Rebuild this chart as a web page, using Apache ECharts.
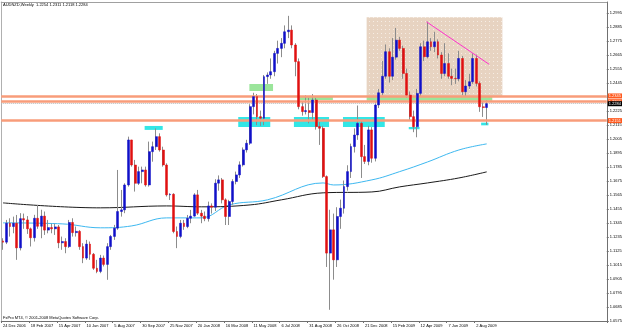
<!DOCTYPE html>
<html>
<head>
<meta charset="utf-8">
<script src="https://cdn.jsdelivr.net/npm/echarts@6/dist/echarts.min.js"></script>
<style>
  html, body { margin: 0; padding: 0; background: #fff; }
  #chart { width: 625px; height: 330px; }
</style>
</head>
<body>
<div id="chart"></div>
<script>
// AUDNZD weekly candles, first bar = week of 24 Dec 2006
const slotCount = 174; // bars + empty room on the right of the last bar
const tickLabels = ["24 Dec 2006", "18 Feb 2007", "15 Apr 2007", "10 Jun 2007", "5 Aug 2007", "30 Sep 2007",
  "25 Nov 2007", "20 Jan 2008", "16 Mar 2008", "11 May 2008", "6 Jul 2008", "31 Aug 2008", "26 Oct 2008",
  "21 Dec 2008", "15 Feb 2009", "12 Apr 2009", "7 Jun 2009", "2 Aug 2009"];

const opens = [
  1.1205, 1.1195, 1.1344, 1.1318, 1.1344, 1.1150, 1.1380, 1.1370, 1.1300, 1.1230,
  1.1383, 1.1320, 1.1400, 1.1290, 1.1310, 1.1300, 1.1315, 1.1190, 1.1200, 1.1160,
  1.1350, 1.1270, 1.1280, 1.1160, 1.1070, 1.1180, 1.1100, 1.0990, 1.0965, 1.1070,
  1.1020, 1.1160, 1.1240, 1.1305, 1.1436, 1.1449, 1.1645, 1.1999, 1.1802, 1.1658,
  1.1750, 1.1763, 1.1645, 1.1907, 1.1946, 1.2025, 1.1920, 1.1802, 1.1567, 1.1572,
  1.1279, 1.1240, 1.1344, 1.1318, 1.1383, 1.1400, 1.1567, 1.1423, 1.1400, 1.1380,
  1.1480, 1.1470, 1.1659, 1.1685, 1.1528, 1.1397, 1.1515, 1.1672, 1.1724, 1.1803,
  1.1921, 1.1973, 1.2261, 1.2340, 1.2182, 1.2170, 1.2497, 1.2510, 1.2536, 1.2680,
  1.2719, 1.2759, 1.2850, 1.2863, 1.2746, 1.2615, 1.2261, 1.2222, 1.2230, 1.2215,
  1.2313, 1.2104, 1.2091, 1.1711, 1.1109, 1.1292, 1.1056, 1.1397, 1.1462, 1.1632,
  1.1750, 1.1947, 1.2038, 1.2130, 1.1868, 1.1830, 1.2078, 1.1855, 1.2274, 1.2370,
  1.2500, 1.2693, 1.2500, 1.2650, 1.2784, 1.2719, 1.2522, 1.2352, 1.2182, 1.2103,
  1.2365, 1.2732, 1.2653, 1.2771, 1.2732, 1.2771, 1.2667, 1.2522, 1.2600, 1.2500,
  1.2483, 1.2480, 1.2640, 1.2378, 1.2423, 1.2457, 1.2640, 1.2444, 1.2260, 1.2254
];
const highs = [
  1.1226, 1.1370, 1.1383, 1.1396, 1.1409, 1.1423, 1.1420, 1.1400, 1.1310, 1.1410,
  1.1488, 1.1450, 1.1436, 1.1370, 1.1340, 1.1340, 1.1330, 1.1239, 1.1226, 1.1370,
  1.1383, 1.1318, 1.1290, 1.1187, 1.1213, 1.1200, 1.1110, 1.1056, 1.1095, 1.1090,
  1.1187, 1.1252, 1.1331, 1.1763, 1.1606, 1.1658, 1.2025, 1.2000, 1.1842, 1.1789,
  1.1789, 1.1789, 1.1986, 1.1986, 1.2090, 1.2051, 1.1946, 1.1815, 1.1580, 1.1580,
  1.1318, 1.1370, 1.1370, 1.1409, 1.1449, 1.1580, 1.1606, 1.1449, 1.1436, 1.1514,
  1.1500, 1.1690, 1.1720, 1.1700, 1.1540, 1.1528, 1.1690, 1.1750, 1.1830, 1.1940,
  1.2000, 1.2280, 1.2370, 1.2360, 1.2230, 1.2510, 1.2530, 1.2640, 1.2700, 1.2780,
  1.2800, 1.2900, 1.2975, 1.2900, 1.2760, 1.2640, 1.2300, 1.2350, 1.2330, 1.2360,
  1.2330, 1.2140, 1.2110, 1.1720, 1.1450, 1.1420, 1.1470, 1.1530, 1.1680, 1.1800,
  1.1970, 1.2090, 1.2270, 1.2150, 1.1960, 1.2110, 1.2100, 1.2300, 1.2400, 1.2620,
  1.2750, 1.2720, 1.2800, 1.2880, 1.2810, 1.2740, 1.2560, 1.2380, 1.2230, 1.2400,
  1.2760, 1.2780, 1.2930, 1.2800, 1.2850, 1.2790, 1.2690, 1.2760, 1.2680, 1.2560,
  1.2560, 1.2700, 1.2660, 1.2470, 1.2520, 1.2680, 1.2670, 1.2460, 1.2300, 1.2311
];
const lows = [
  1.1135, 1.1180, 1.1239, 1.1265, 1.1056, 1.1130, 1.1300, 1.1260, 1.1161, 1.1200,
  1.1300, 1.1226, 1.1252, 1.1265, 1.1265, 1.1252, 1.1148, 1.1135, 1.1108, 1.1150,
  1.1239, 1.1239, 1.1135, 1.1030, 1.1056, 1.1056, 1.0977, 1.0951, 1.0951, 1.1004,
  1.0899, 1.1135, 1.1213, 1.1292, 1.1396, 1.1423, 1.1632, 1.1789, 1.1593, 1.1645,
  1.1658, 1.1632, 1.1632, 1.1828, 1.1920, 1.1907, 1.1789, 1.1554, 1.1527, 1.1265,
  1.1148, 1.1226, 1.1292, 1.1305, 1.1344, 1.1396, 1.1409, 1.1344, 1.1360, 1.1357,
  1.1420, 1.1440, 1.1600, 1.1500, 1.1330, 1.1330, 1.1490, 1.1650, 1.1700, 1.1790,
  1.1900, 1.1960, 1.2200, 1.2115, 1.2110, 1.2115, 1.2440, 1.2480, 1.2500, 1.2600,
  1.2650, 1.2720, 1.2800, 1.2720, 1.2500, 1.2240, 1.2190, 1.2200, 1.2130, 1.2150,
  1.2080, 1.1960, 1.1700, 1.1000, 1.0663, 1.0900, 1.1000, 1.1300, 1.1420, 1.1600,
  1.1700, 1.1900, 1.2000, 1.1700, 1.1810, 1.1800, 1.1820, 1.1830, 1.2250, 1.2350,
  1.2480, 1.2450, 1.2470, 1.2630, 1.2700, 1.2480, 1.2330, 1.2150, 1.2060, 1.2020,
  1.2340, 1.2620, 1.2640, 1.2700, 1.2690, 1.2640, 1.2480, 1.2500, 1.2480, 1.2430,
  1.2440, 1.2460, 1.2350, 1.2340, 1.2400, 1.2440, 1.2420, 1.2220, 1.2180, 1.2118
];
const closes = [
  1.1195, 1.1344, 1.1318, 1.1344, 1.1150, 1.1380, 1.1370, 1.1300, 1.1230, 1.1383,
  1.1320, 1.1400, 1.1290, 1.1310, 1.1300, 1.1315, 1.1190, 1.1200, 1.1160, 1.1350,
  1.1270, 1.1280, 1.1160, 1.1070, 1.1180, 1.1100, 1.0990, 1.0965, 1.1070, 1.1020,
  1.1160, 1.1240, 1.1305, 1.1436, 1.1449, 1.1645, 1.1999, 1.1802, 1.1658, 1.1750,
  1.1763, 1.1645, 1.1907, 1.1946, 1.2025, 1.1920, 1.1802, 1.1567, 1.1572, 1.1279,
  1.1240, 1.1344, 1.1318, 1.1383, 1.1400, 1.1567, 1.1423, 1.1400, 1.1380, 1.1480,
  1.1470, 1.1659, 1.1685, 1.1528, 1.1397, 1.1515, 1.1672, 1.1724, 1.1803, 1.1921,
  1.1973, 1.2261, 1.2340, 1.2182, 1.2170, 1.2497, 1.2510, 1.2536, 1.2680, 1.2719,
  1.2759, 1.2850, 1.2863, 1.2746, 1.2615, 1.2261, 1.2222, 1.2230, 1.2215, 1.2313,
  1.2104, 1.2091, 1.1711, 1.1109, 1.1292, 1.1056, 1.1397, 1.1462, 1.1632, 1.1750,
  1.1947, 1.2038, 1.2130, 1.1868, 1.1830, 1.2078, 1.1855, 1.2274, 1.2370, 1.2500,
  1.2693, 1.2500, 1.2650, 1.2784, 1.2719, 1.2522, 1.2352, 1.2182, 1.2103, 1.2365,
  1.2732, 1.2653, 1.2771, 1.2732, 1.2771, 1.2667, 1.2522, 1.2600, 1.2500, 1.2483,
  1.2480, 1.2640, 1.2378, 1.2423, 1.2457, 1.2640, 1.2444, 1.2260, 1.2254, 1.2284
];

// price scale ticks on the right
const yTicks = [1.0575, 1.0685, 1.0795, 1.0905, 1.1015, 1.1125, 1.1235, 1.1345, 1.1455, 1.1565, 1.1675,
  1.1785, 1.1895, 1.2005, 1.2115, 1.2225, 1.2335, 1.2445, 1.2555, 1.2665, 1.2775, 1.2885, 1.2995];

// moving averages, read at some bars: [bar, price]
const maBlue = [[0, 1.1347], [17, 1.1339], [28, 1.1308], [37, 1.1323], [47, 1.1386], [57, 1.1386],
  [65, 1.1488], [76, 1.1528], [92, 1.1661], [95, 1.1645], [106, 1.1685], [114, 1.1750], [122, 1.1826],
  [131, 1.1920], [139, 1.1968]];
const maBlack = [[0, 1.1504], [28, 1.1465], [47, 1.1480], [57, 1.1473], [71, 1.1488], [80, 1.1528],
  [92, 1.1583], [106, 1.1590], [114, 1.1630], [122, 1.1661], [131, 1.1700], [139, 1.1748]];

// drawn objects: [barFrom, priceTop, barTo, priceBottom]
const boxRange = [104.5, 1.2965, 143.5, 1.2345];
const cyanZones = [[40.7, 1.2109, 45.9, 1.2078], [67.6, 1.2180, 76.8, 1.2101], [83.6, 1.2180, 93.7, 1.2101],
  [97.7, 1.2180, 109.7, 1.2101], [116.6, 1.2101, 119.7, 1.2083], [137.4, 1.2135, 139.5, 1.2114]];
const greenZones = [[70.8, 1.2439, 77.6, 1.2384], [85.1, 1.2345, 94.8, 1.2313], [104.5, 1.2339, 140.6, 1.2308]];
const trendLine = [[121.7, 1.2928], [139.7, 1.2594]];
const levels = [1.2345, 1.2300, 1.2151];
const lastPrice = 1.2284;

const candles = opens.map((o, i) => [o, closes[i], lows[i], highs[i]]);
const bodies = opens.map((o, i) => [o, closes[i], Math.min(o, closes[i]), Math.max(o, closes[i])]);
const slots = Array.from({ length: slotCount }, (_, i) => i);

// dotted tan fill like the MT4 rectangle
const dot = document.createElement("canvas");
dot.width = 4;
dot.height = 4;
const dctx = dot.getContext("2d");
dctx.fillStyle = "#E7D3C1";
dctx.fillRect(0, 0, 4, 4);
dctx.fillStyle = "#F6EDE4";
dctx.fillRect(1, 1, 1, 1);

const zoneItem = (z, color) => [
  { coord: [z[0], z[1]], itemStyle: { color: color } },
  { coord: [z[2], z[3]] },
];

const font = "'Liberation Sans', sans-serif";
const smallText = { fontSize: 4, fontWeight: "normal", color: "#000", fontFamily: font };
const showTick = (i) => i % 8 === 0 && i / 8 < tickLabels.length;
const chart = echarts.init(document.getElementById("chart"), null, { renderer: "canvas" });
chart.setOption({
  animation: false,
  backgroundColor: "#ffffff",
  title: [
    {
      text: "AUDNZD,Weekly  1.2254 1.2311 1.2118 1.2284",
      left: 3,
      top: 3,
      padding: 0,
      textStyle: smallText,
    },
    {
      text: "FxPro MT4, © 2001-2008 MetaQuotes Software Corp.",
      left: 3,
      top: 316,
      padding: 0,
      textStyle: smallText,
    },
  ],
  grid: { left: 0, right: 17, top: 2, bottom: 9 },
  xAxis: [
    {
      type: "category",
      data: slots,
      boundaryGap: true,
      axisLine: { lineStyle: { color: "#707070", width: 1 } },
      axisTick: { show: true, length: 2, interval: showTick, lineStyle: { color: "#707070" } },
      axisLabel: {
        interval: showTick,
        showMinLabel: true,
        hideOverlap: false,
        formatter: (v, i) => tickLabels[i / 8] || "",
        align: "left",
        margin: 3,
        ...smallText,
      },
      splitLine: { show: false },
    },
    {
      // same slots as a number line, for the drawn objects
      type: "value",
      position: "top",
      min: -0.5,
      max: slotCount - 0.5,
      axisLine: { show: true, onZero: false, lineStyle: { color: "#A0A0A0" } },
      axisTick: { show: false },
      axisLabel: { show: false },
      splitLine: { show: false },
    },
  ],
  yAxis: [
    {
      type: "value",
      position: "right",
      min: 1.0575,
      max: 1.3084,
      axisLine: { show: true, onZero: false, lineStyle: { color: "#707070" } },
      axisTick: { show: true, length: 2, customValues: yTicks, lineStyle: { color: "#707070" } },
      axisLabel: {
        customValues: yTicks,
        formatter: (v) => v.toFixed(4),
        margin: 3,
        ...smallText,
      },
      splitLine: { show: false },
    },
    {
      type: "value",
      position: "left",
      min: 1.0575,
      max: 1.3084,
      axisLine: { show: true, onZero: false, lineStyle: { color: "#B0B0B0" } },
      axisTick: { show: false },
      axisLabel: { show: false },
      splitLine: { show: false },
    },
  ],
  series: [
    {
      // rectangles
      type: "line",
      xAxisIndex: 1,
      yAxisIndex: 0,
      z: 1,
      data: [],
      silent: true,
      markArea: {
        silent: true,
        data: [
          [
            { coord: [boxRange[0], boxRange[1]], itemStyle: { color: { image: dot, repeat: "repeat" } } },
            { coord: [boxRange[2], boxRange[3]] },
          ],
          ...greenZones.map((z) => zoneItem(z, "#9BE59B")),
          ...cyanZones.map((z) => zoneItem(z, "#33E6E6")),
        ],
      },
    },
    {
      name: "MA blue",
      type: "line",
      xAxisIndex: 1,
      data: maBlue,
      smooth: 0.4,
      showSymbol: false,
      z: 3,
      lineStyle: { color: "#3DB8F0", width: 1 },
    },
    {
      name: "MA black",
      type: "line",
      xAxisIndex: 1,
      data: maBlack,
      smooth: 0.4,
      showSymbol: false,
      z: 3,
      lineStyle: { color: "#1A1A1A", width: 1 },
    },
    {
      // wicks
      type: "candlestick",
      xAxisIndex: 0,
      data: candles,
      barWidth: 1,
      z: 4,
      itemStyle: { color: "#8C8C8C", color0: "#8C8C8C", borderColor: "#8C8C8C", borderColor0: "#8C8C8C", borderWidth: 1 },
    },
    {
      // bodies
      type: "candlestick",
      xAxisIndex: 0,
      data: bodies,
      barWidth: 2.4,
      z: 5,
      itemStyle: { color: "#1010C8", color0: "#E01010", borderColor: "#1010C8", borderColor0: "#E01010", borderWidth: 0.5 },
    },
    {
      // trend line
      type: "line",
      xAxisIndex: 1,
      data: trendLine,
      showSymbol: false,
      z: 6,
      lineStyle: { color: "#FF33CC", width: 1 },
    },
    {
      // horizontal levels and last price
      type: "line",
      xAxisIndex: 1,
      data: [],
      z: 7,
      markLine: {
        silent: true,
        symbol: "none",
        precision: 4,
        data: [
          ...levels.map((v) => ({
            yAxis: v,
            lineStyle: { color: "#F89C7A", width: 2.5, type: "solid" },
            label: { backgroundColor: "#FF5A1F", color: "#fff" },
          })),
          {
            yAxis: lastPrice,
            lineStyle: { color: "#B8B8B8", width: 1, type: "dotted" },
            label: { backgroundColor: "#000", color: "#fff" },
          },
        ],
        label: {
          show: true,
          position: "end",
          distance: 1,
          formatter: (p) => p.value.toFixed(4),
          fontSize: 4,
          fontFamily: font,
          padding: [0.5, 1],
        },
      },
    },
  ],
});
</script>
</body>
</html>
